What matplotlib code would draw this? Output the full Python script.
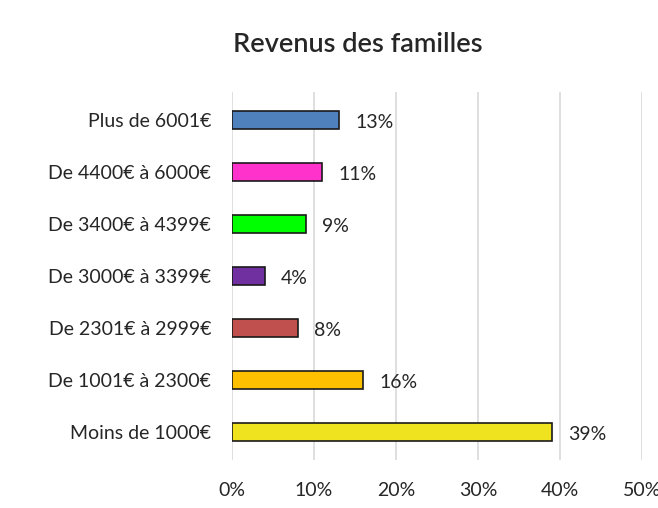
import matplotlib.pyplot as plt
from matplotlib.ticker import FuncFormatter

plt.rcParams['font.family'] = ['Lato', 'DejaVu Sans']

categories = ['Moins de 1000€', 'De 1001€ à 2300€', 'De 2301€ à 2999€',
              'De 3000€ à 3399€', 'De 3400€ à 4399€', 'De 4400€ à 6000€',
              'Plus de 6001€']
values = [0.39, 0.16, 0.08, 0.04, 0.09, 0.11, 0.13]
colors = ['#EEE31E', '#FFC000', '#C0504D', '#7030A0', '#00FF00', '#FF33CC', '#4F81BD']
xticks = [0, 0.1, 0.2, 0.3, 0.4, 0.5]

fig = plt.figure(figsize=(6.58, 5.08), dpi=100)
ax = fig.add_axes([232 / 658, 48 / 508, 410 / 658, 368 / 508])

ypos = range(len(categories))
ax.barh(ypos, values, height=0.33, color=colors, edgecolor='#1a1a1a',
        linewidth=1.2, zorder=3)

for y, v in zip(ypos, values):
    ax.text(v + 0.02, y - 0.05, f'{round(v * 100)}%', va='center', ha='left',
            fontsize=14, color='#262626')

ax.set_xlim(0, 0.5)
ax.set_ylim(-0.54, 6.54)
ax.set_xticks(xticks)
ax.xaxis.set_major_formatter(FuncFormatter(lambda x, _: f'{round(x * 100)}%'))
ax.set_yticks(list(ypos))
ax.set_yticklabels(categories)
ax.tick_params(axis='both', length=0, labelsize=14, colors='#262626')
ax.tick_params(axis='x', pad=16)
ax.tick_params(axis='y', pad=15)
ax.grid(axis='x', color='#D9D9D9', linewidth=1.2, zorder=0)
for s in ax.spines.values():
    s.set_visible(False)

fig.text(358 / 658, 463 / 508, 'Revenus des familles', ha='center', va='center',
         fontsize=19.5, fontweight='semibold', color='#262626')

fig.savefig('out.png', dpi=100)
